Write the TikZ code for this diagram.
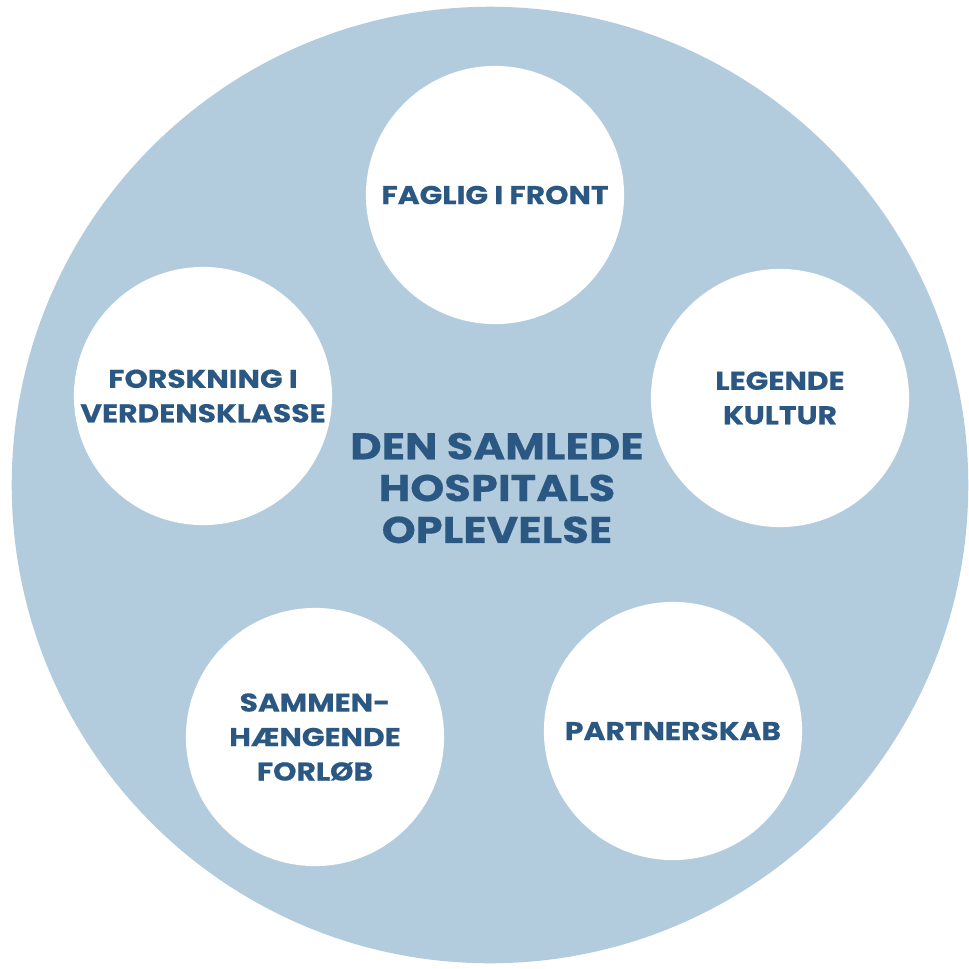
\documentclass[tikz,border=0pt]{standalone}
\usepackage{fontspec}
\usepackage{tikz}
\usepackage{xcolor}
\newfontfamily\hospfont{Poppins}[FakeStretch=1.16,FakeBold=0.4]
\definecolor{hosplight}{HTML}{B3CCDD}
\definecolor{hospblue}{HTML}{2B5883}

\begin{document}
\begin{tikzpicture}[x=0.01cm,y=0.01cm,
  pillar/.style={circle,fill=white,minimum size=2.58cm,inner sep=0pt,align=center,
    text=hospblue,font=\hospfont\bfseries\fontsize{7.3}{9.8}\selectfont},
  core/.style={inner sep=0pt,align=center,text=hospblue,
    font=\hospfont\bfseries\fontsize{10.6}{11.9}\selectfont}]
\useasboundingbox (0,0) rectangle (969,-969);
\fill [hosplight] (490,-485) circle (4.78cm);
% the five pillars
\node [pillar] (faglig) at (495,-195) {FAGLIG I FRONT};
\node [pillar] (legende) at (780,-398) {LEGENDE\\KULTUR};
\node [pillar] (forskning) at (203,-396) {FORSKNING I\\VERDENSKLASSE};
\node [pillar] (sammen) at (315,-737) {SAMMEN-\\HÆNGENDE\\FORLØB};
\node [pillar] (partner) at (673,-731) {PARTNERSKAB};
% centre text
\node [core] (kerne) at (497,-488) {DEN SAMLEDE\\HOSPITALS\\OPLEVELSE};
\end{tikzpicture}
\end{document}
